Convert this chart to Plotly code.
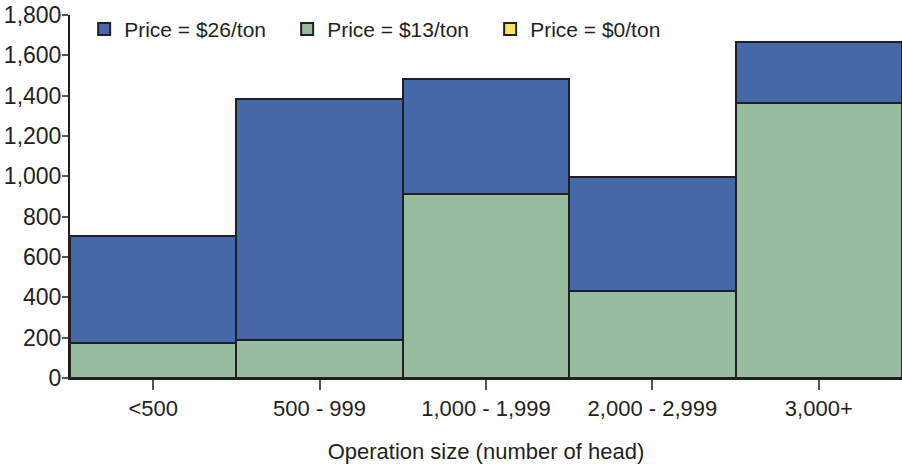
import plotly.graph_objects as go

categories = ["<500", "500 - 999", "1,000 - 1,999", "2,000 - 2,999", "3,000+"]
price_26 = [705, 1385, 1485, 995, 1665]
price_13 = [175, 188, 912, 432, 1365]
price_0 = [0, 0, 0, 0, 0]

series_names = ["Price = $26/ton", "Price = $13/ton", "Price = $0/ton"]
colors = ["#4468A8", "#98BCA0", "#FFE35C"]
y_ticks = [0, 200, 400, 600, 800, 1000, 1200, 1400, 1600, 1800]

FONT = "Liberation Sans, Arial, sans-serif"
INK = "#231F20"

fig = go.Figure()
for name, vals, col in zip(series_names, [price_26, price_13, price_0], colors):
    fig.add_trace(go.Bar(
        x=categories, y=vals, name=name,
        marker=dict(color=col, line=dict(color=INK, width=2)),
    ))

fig.update_layout(
    width=902, height=468,
    margin=dict(l=70, r=0, t=15, b=90, autoexpand=False),
    barmode="overlay", bargap=0,
    plot_bgcolor="white", paper_bgcolor="white",
    font=dict(family=FONT, size=22, color=INK),
    legend=dict(
        orientation="h", x=0.017, y=1.017, xanchor="left", yanchor="top",
        font=dict(size=21, color=INK), bgcolor="rgba(0,0,0,0)",
        entrywidth=158, traceorder="normal",
    ),
    xaxis=dict(
        title=dict(text="Operation size (number of head)", font=dict(size=22), standoff=23),
        showline=True, linecolor=INK, linewidth=2,
        ticks="outside", ticklen=10, tickwidth=1.5, tickcolor="#555",
        tickfont=dict(size=22), showgrid=False, automargin=False,
    ),
    yaxis=dict(
        range=[0, 1800], tickvals=y_ticks, tickformat=",d",
        showline=True, linecolor=INK, linewidth=2,
        ticks="outside", ticklen=6, tickwidth=1.5, tickcolor="#555",
        tickfont=dict(size=23), showgrid=False, zeroline=False,
        automargin=False, ticklabeloverflow="allow", ticklabelstandoff=-4,
    ),
)

fig.write_html(
    "out.html",
    config={"displayModeBar": False},
    post_script="document.body.style.margin='0';document.body.style.overflow='hidden';",
)
